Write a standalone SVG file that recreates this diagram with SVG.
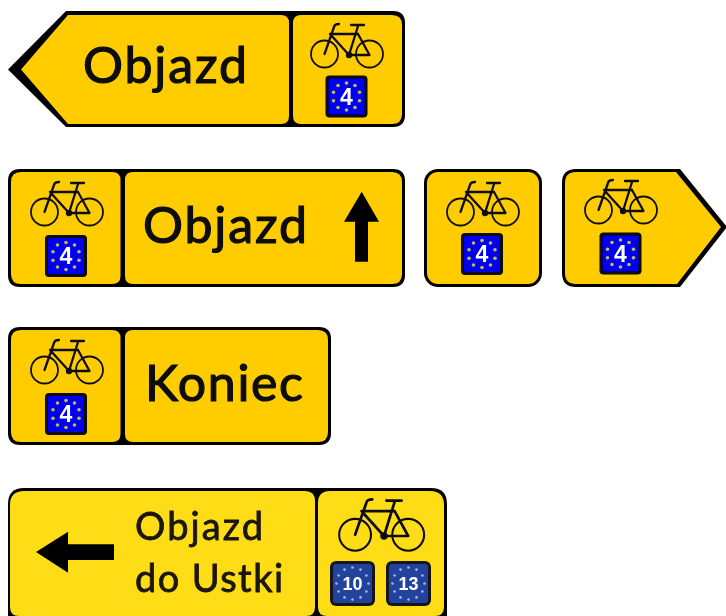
<svg xmlns="http://www.w3.org/2000/svg" width="726" height="616" viewBox="0 0 726 616">
<style>
.k{fill:#000}
.y{fill:#FFCC00}
.y2{fill:#FFDD17}
.t{font-family:Lato,"Liberation Sans",sans-serif;font-weight:400;fill:#0c0c0c;stroke:#0c0c0c;stroke-width:1.2}
.t2{font-family:Lato,"Liberation Sans",sans-serif;font-weight:400;fill:#1a1408;stroke:#1a1408;stroke-width:.8}
.n{font-family:"Liberation Sans",sans-serif;font-weight:700;fill:#fff;text-anchor:middle}
.w{fill:none;stroke:#111;stroke-width:1.8}
.f{fill:none;stroke:#111;stroke-width:2.3;stroke-linecap:round;stroke-linejoin:round}
</style>
<defs>
<filter id="soft" x="-5%" y="-5%" width="110%" height="110%"><feGaussianBlur stdDeviation="0.7"/></filter>
<g id="bike">
<circle class="w" cx="-24.5" cy="-1" r="13.5"/>
<circle class="w" cx="20.5" cy="-1" r="13.5"/>
<path class="f" d="M-24.5-1L-15-28Q-14.500-31-10-31M-19-21H9M-19-21L0 0L9-29M0 0H20.500L9-21M2-30H15"/>
<circle cx="0" cy="0" r="3.2" fill="#111"/>
</g>
<g id="plate4">
<rect x="-21" y="-21" width="42" height="42" rx="4" fill="#080808"/>
<rect x="-18" y="-18" width="36" height="36" rx="1.500" fill="#0000F0"/>
<g fill="#C9B84E"><circle cx="0" cy="-13.500" r="1.800"/><circle cx="8.500" cy="-11" r="1.800"/><circle cx="-8.500" cy="-11" r="1.800"/><circle cx="13" cy="-4.200" r="1.800"/><circle cx="-13" cy="-4.200" r="1.800"/><circle cx="13" cy="4.200" r="1.800"/><circle cx="-13" cy="4.200" r="1.800"/><circle cx="8.500" cy="11" r="1.800"/><circle cx="-8.500" cy="11" r="1.800"/><circle cx="0" cy="13.500" r="1.800"/></g>
<text class="n" x="0" y="8" font-size="23">4</text>
</g>
<g id="plateEU">
<rect x="-22.500" y="-22.500" width="45" height="45" rx="6" fill="#161616"/>
<rect x="-19.500" y="-19.500" width="39" height="39" rx="3" fill="#22429E"/>
<g fill="#A9B8DE"><circle cx="0" cy="-16" r="1.300"/><circle cx="8" cy="-13.900" r="1.300"/><circle cx="13.900" cy="-8" r="1.300"/><circle cx="16" cy="0" r="1.300"/><circle cx="13.900" cy="8" r="1.300"/><circle cx="8" cy="13.900" r="1.300"/><circle cx="0" cy="16" r="1.300"/><circle cx="-8" cy="13.900" r="1.300"/><circle cx="-13.900" cy="8" r="1.300"/><circle cx="-16" cy="0" r="1.300"/><circle cx="-13.900" cy="-8" r="1.300"/><circle cx="-8" cy="-13.900" r="1.300"/></g>
</g>
</defs>
<rect width="726" height="616" fill="#fff"/>
<g filter="url(#soft)">
<g id="sign-left-objazd">
<path class="k" d="M8 69.500L66 11H393Q405 11 405 23V115Q405 127 393 127H66Z"/>
<path class="y" d="M21 69.500L68 15H281Q289 15 289 23V116Q289 124 281 124H68Z"/>
<path class="y" d="M301 15H392Q402 15 402 25V114Q402 124 392 124H301Q293 124 293 116V23Q293 15 301 15Z"/>
<text class="t" x="83" y="83" font-size="50" textLength="164" lengthAdjust="spacing">Objazd</text>
<use href="#bike" x="349" y="55"/>
<use href="#plate4" x="346.500" y="96.500"/>
</g>
<g id="sign-objazd-up">
<path class="k" d="M20 169H393Q405 169 405 181V275Q405 287 393 287H20Q8 287 8 275V181Q8 169 20 169Z"/>
<path class="y" d="M21 172H112Q120.500 172 120.500 180V276Q120.500 284 112 284H21Q11 284 11 274V182Q11 172 21 172Z"/>
<path class="y" d="M133 172H392Q402 172 402 182V274Q402 284 392 284H133Q125 284 125 276V180Q125 172 133 172Z"/>
<text class="t" x="143" y="243" font-size="50" textLength="164" lengthAdjust="spacing">Objazd</text>
<path class="k" d="M361.700 191.700L379 221.700H368V261.700H355V221.700H344Z"/>
<use href="#bike" x="69" y="213"/>
<use href="#plate4" x="66" y="256"/>
</g>
<g id="sign-bike">
<rect class="k" x="424" y="169" width="118" height="118" rx="14"/>
<rect class="y" x="427" y="172" width="112" height="112" rx="11"/>
<use href="#bike" x="485" y="213"/>
<use href="#plate4" x="482" y="254"/>
</g>
<g id="sign-right">
<path class="k" d="M576 169H680L727 227L680 287H576Q562 287 562 273V183Q562 169 576 169Z"/>
<path class="y" d="M576 172H676L721 227L677 284H576Q565 284 565 273V183Q565 172 576 172Z"/>
<use href="#bike" x="623" y="211"/>
<use href="#plate4" x="620.500" y="253.500"/>
</g>
<g id="sign-koniec">
<path class="k" d="M20 327H319Q331 327 331 339V433Q331 445 319 445H20Q8 445 8 433V339Q8 327 20 327Z"/>
<path class="y" d="M21 330H112Q120.500 330 120.500 338V434Q120.500 442 112 442H21Q11 442 11 432V340Q11 330 21 330Z"/>
<path class="y" d="M133 330H318Q328 330 328 340V432Q328 442 318 442H133Q125 442 125 434V338Q125 330 133 330Z"/>
<text class="t" x="145" y="401" font-size="50" textLength="158" lengthAdjust="spacing">Koniec</text>
<use href="#bike" x="69" y="371"/>
<use href="#plate4" x="66" y="414"/>
</g>
<g id="sign-ustka">
<path class="k" d="M24 488H431Q447 488 447 504V616H8V504Q8 488 24 488Z"/>
<path class="y2" d="M24 491H305Q315 491 315 501V607Q315 616 306 616H19Q10 616 10 607V505Q10 491 24 491Z"/>
<path class="y2" d="M330 491H430Q444 491 444 505V607Q444 616 435 616H327Q318 616 318 607V503Q318 491 330 491Z"/>
<text class="t2" x="135" y="540" font-size="38" textLength="128" lengthAdjust="spacing">Objazd</text>
<text class="t2" x="135" y="592" font-size="38" textLength="148" lengthAdjust="spacing">do Ustki</text>
<path class="k" d="M36 552L68 531.700V544.300H114V560H68V572.700Z"/>
<use href="#bike" transform="translate(384 536) scale(1.18)"/>
<use href="#plateEU" x="352.500" y="583.500"/>
<use href="#plateEU" x="408.500" y="583.500"/>
<text class="n" x="352.500" y="590" font-size="18">10</text>
<text class="n" x="408.500" y="590" font-size="18">13</text>
</g>
</g>
</svg>
